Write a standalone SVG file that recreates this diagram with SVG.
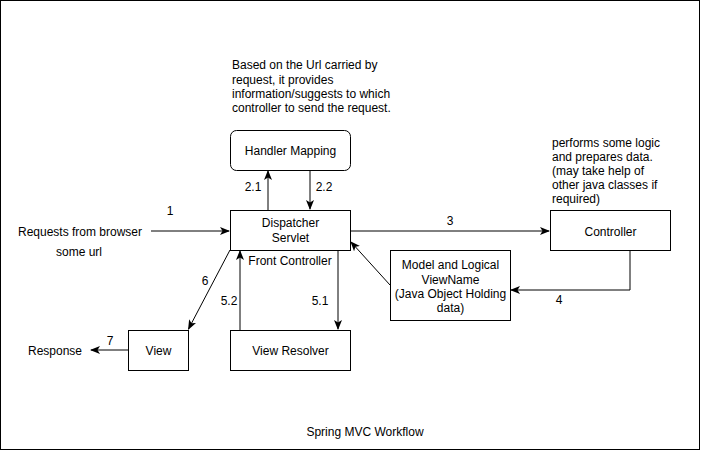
<svg xmlns="http://www.w3.org/2000/svg" width="701" height="451" viewBox="0 0 701 451">
<style>
text{font-family:"Liberation Sans",Arial,sans-serif;font-size:12px;fill:#000}
.c{text-anchor:middle}
.box{fill:#fff;stroke:#000;stroke-width:1}
.ln{fill:none;stroke:#000;stroke-width:1}
</style>
<defs>
<marker id="ah" viewBox="0 0 10 8" refX="9" refY="4" markerWidth="10" markerHeight="8" markerUnits="userSpaceOnUse" orient="auto">
<path d="M0,0 L10,4 L0,8 L2.5,4 Z" fill="#000"/>
</marker>
</defs>
<rect x="0.5" y="0.5" width="699" height="449" fill="#fff" stroke="#000"/>
<g id="connectors">
<path class="ln" d="M151,231 H229" marker-end="url(#ah)"/>
<path class="ln" d="M268,210 V171" marker-end="url(#ah)"/>
<path class="ln" d="M310,170 V209" marker-end="url(#ah)"/>
<path class="ln" d="M350,231 H549" marker-end="url(#ah)"/>
<path class="ln" d="M630,250 V290 H511" marker-end="url(#ah)"/>
<path class="ln" d="M390,285 L351,242" marker-end="url(#ah)"/>
<path class="ln" d="M338,250 V329" marker-end="url(#ah)"/>
<path class="ln" d="M240,330 V251" marker-end="url(#ah)"/>
<path class="ln" d="M230,250 L188.5,329" marker-end="url(#ah)"/>
<path class="ln" d="M128,350 H91" marker-end="url(#ah)"/>
<text class="c" x="170" y="215">1</text>
<text class="c" x="253" y="191">2.1</text>
<text class="c" x="324" y="191">2.2</text>
<text class="c" x="450" y="225">3</text>
<text class="c" x="559" y="304">4</text>
<text class="c" x="320" y="305">5.1</text>
<text class="c" x="229" y="305">5.2</text>
<text class="c" x="205" y="285">6</text>
<text class="c" x="110" y="345">7</text>
</g>
<g id="handler-mapping">
<rect class="box" x="230.5" y="130.5" width="120" height="40" rx="6"/>
<text class="c" x="290.5" y="155">Handler Mapping</text>
</g>
<g id="dispatcher-servlet">
<rect class="box" x="230.5" y="210.5" width="120" height="40"/>
<text class="c" x="290.5" y="227">Dispatcher</text>
<text class="c" x="290.5" y="242">Servlet</text>
</g>
<g id="controller">
<rect class="box" x="550.5" y="210.5" width="120" height="40"/>
<text class="c" x="610.5" y="236">Controller</text>
</g>
<g id="model">
<rect class="box" x="390.5" y="250.5" width="120" height="70"/>
<text class="c" x="450.5" y="269">Model and Logical</text>
<text class="c" x="450.5" y="284">ViewName</text>
<text class="c" x="450.5" y="298">(Java Object Holding</text>
<text class="c" x="450.5" y="312">data)</text>
</g>
<g id="view-resolver">
<rect class="box" x="230.5" y="330.5" width="120" height="40"/>
<text class="c" x="290.5" y="355">View Resolver</text>
</g>
<g id="view">
<rect class="box" x="128.5" y="330.5" width="60" height="40"/>
<text class="c" x="158.5" y="355">View</text>
</g>
<g id="labels">
<text x="232" y="69">Based on the Url carried by</text>
<text x="232" y="83.5">request, it provides</text>
<text x="232" y="98">information/suggests to which</text>
<text x="232" y="112">controller to send the request.</text>
<text x="552" y="147">performs some logic</text>
<text x="552" y="161">and prepares data.</text>
<text x="552" y="175">(may take help of</text>
<text x="552" y="189">other java classes if</text>
<text x="552" y="203">required)</text>
<text class="c" x="80" y="236">Requests from browser</text>
<text class="c" x="79" y="256">some url</text>
<text class="c" x="290" y="265">Front Controller</text>
<text class="c" x="55" y="355">Response</text>
<text class="c" x="365" y="436">Spring MVC Workflow</text>
</g>
</svg>
